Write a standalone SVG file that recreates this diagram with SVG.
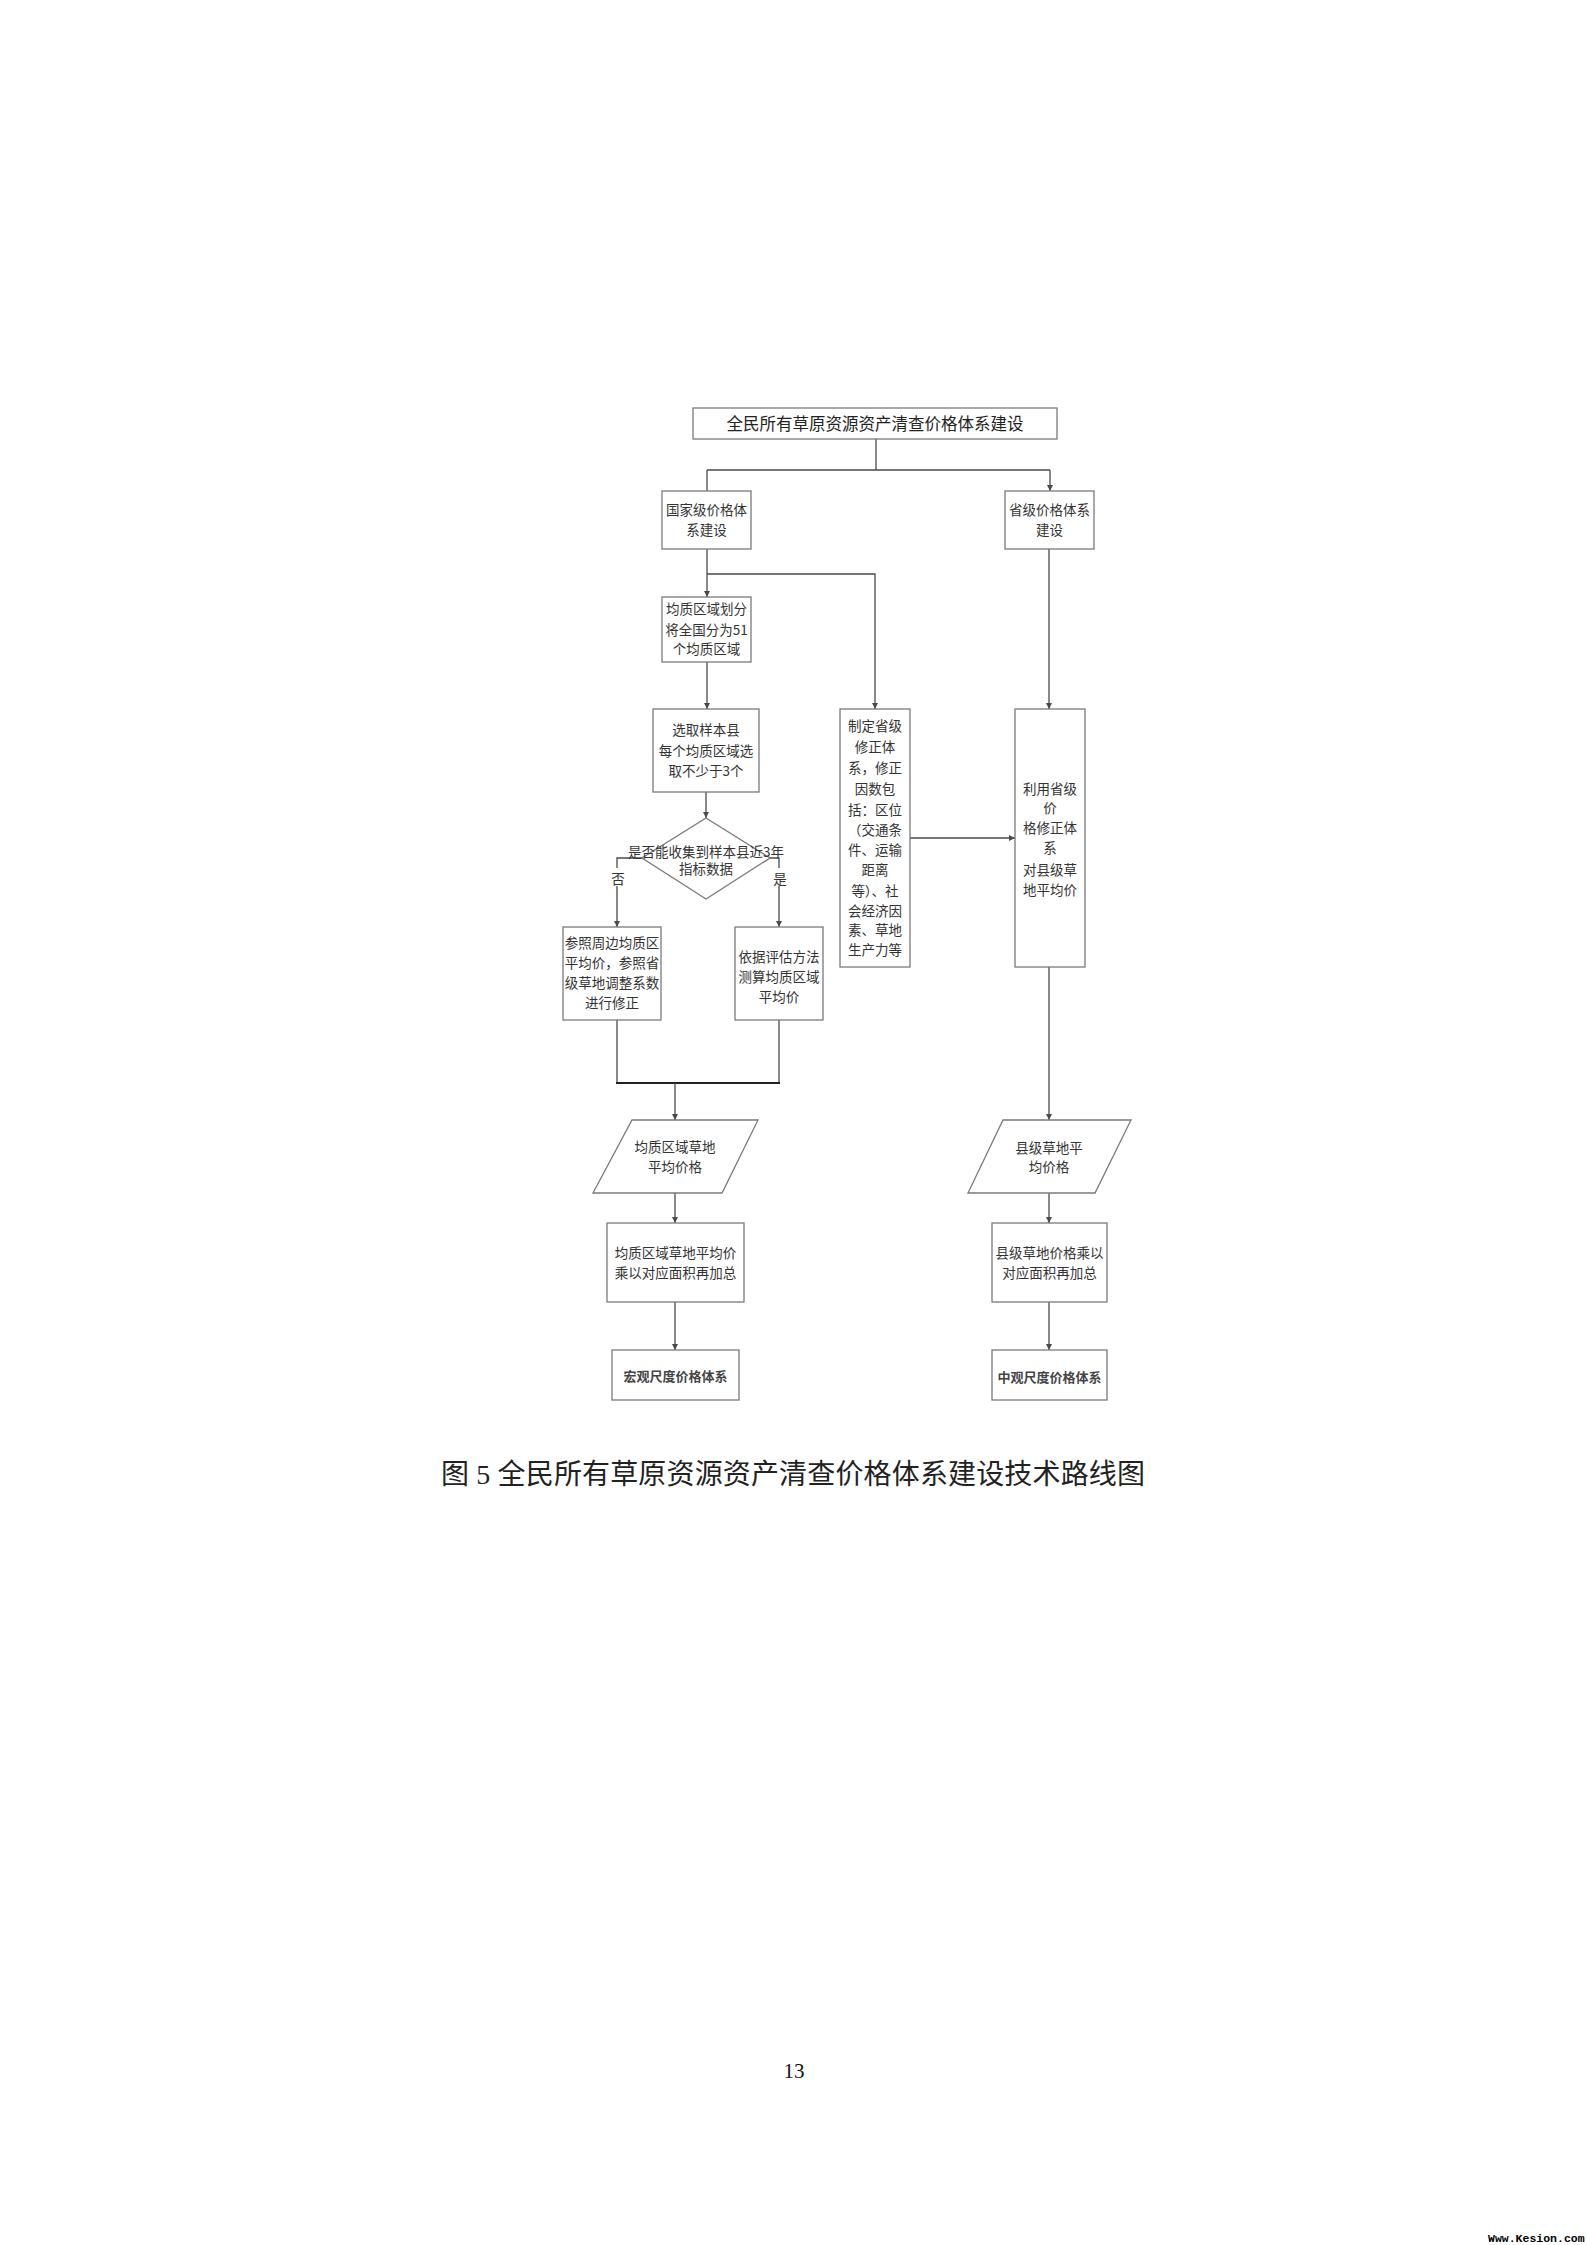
<svg xmlns="http://www.w3.org/2000/svg" width="1587" height="2245" viewBox="0 0 1587 2245">
<style>
.box{fill:#fff;stroke:#7a7a7a;stroke-width:1.3}
.t{font-family:"Noto Sans CJK SC","Liberation Sans",sans-serif;font-size:13.5px;fill:#333;text-anchor:middle}
.tb{font-family:"Noto Sans CJK SC","Liberation Sans",sans-serif;font-size:13px;font-weight:bold;fill:#444;text-anchor:middle}
.c{fill:none;stroke:#4a4a4a;stroke-width:1.3}
.ca{fill:none;stroke:#4a4a4a;stroke-width:1.3;marker-end:url(#arr)}
</style>
<defs>
<marker id="arr" markerUnits="userSpaceOnUse" markerWidth="6" markerHeight="6" refX="6" refY="3" orient="auto">
<path d="M0,0 L6,3 L0,6 z" fill="#4a4a4a"/>
</marker>
</defs>
<rect width="1587" height="2245" fill="#fff"/>

<g id="connectors">
<polyline class="c" points="876,439 876,470"/>
<polyline class="c" points="707,470 707,491"/>
<polyline class="c" points="707,470 1050,470"/>
<polyline class="ca" points="1050,470 1050,491"/>
<polyline class="ca" points="707,549 707,597"/>
<polyline class="ca" points="707,574 875,574 875,709"/>
<polyline class="ca" points="1049,549 1049,709"/>
<polyline class="ca" points="707,662 707,709"/>
<polyline class="ca" points="706,792 706,818"/>
<polyline class="ca" points="642,858 617,858 617,927"/>
<polyline class="ca" points="770,858 779,858 779,927"/>
<polyline class="ca" points="910,838 1015,838"/>
<polyline class="c" points="617,1020 617,1083"/>
<polyline class="c" points="779,1020 779,1083"/>
<polyline style="fill:none;stroke:#222;stroke-width:2" points="616,1083 780,1083"/>
<polyline class="ca" points="675,1083 675,1120"/>
<polyline class="ca" points="675,1193 675,1223"/>
<polyline class="ca" points="675,1302 675,1350"/>
<polyline class="ca" points="1049,967 1049,1120"/>
<polyline class="ca" points="1049,1193 1049,1223"/>
<polyline class="ca" points="1049,1302 1049,1350"/>
<rect x="609" y="868" width="17" height="18" fill="#fff"/>
<text class="t" x="618" y="884" font-size="14">否</text>
<rect x="771" y="868" width="17" height="18" fill="#fff"/>
<text class="t" x="780" y="884" font-size="14">是</text>
</g>

<g id="n_top">
<rect class="box" x="693" y="408" width="364" height="31"/>
<text class="t" x="875" y="430" style="font-size:16.5px;fill:#222">全民所有草原资源资产清查价格体系建设</text>
</g>
<g id="n_guojia">
<rect class="box" x="662" y="491" width="89" height="58"/>
<text class="t" x="706.5" y="515">国家级价格体</text>
<text class="t" x="706.5" y="535">系建设</text>
</g>
<g id="n_shengji">
<rect class="box" x="1005" y="491" width="89" height="58"/>
<text class="t" x="1049.5" y="515">省级价格体系</text>
<text class="t" x="1049.5" y="535">建设</text>
</g>
<g id="n_junzhi">
<rect class="box" x="662" y="597" width="89" height="65"/>
<text class="t" x="706.5" y="614">均质区域划分</text>
<text class="t" x="706.5" y="635">将全国分为51</text>
<text class="t" x="706.5" y="654">个均质区域</text>
</g>
<g id="n_xuanqu">
<rect class="box" x="653" y="709" width="106" height="83"/>
<text class="t" x="706" y="735">选取样本县</text>
<text class="t" x="706" y="756">每个均质区域选</text>
<text class="t" x="706" y="776">取不少于3个</text>
</g>
<g id="n_zhiding">
<rect class="box" x="840" y="709" width="70" height="258"/>
<text class="t" x="875" y="731">制定省级</text>
<text class="t" x="875" y="752">修正体</text>
<text class="t" x="875" y="773">系，修正</text>
<text class="t" x="875" y="794">因数包</text>
<text class="t" x="875" y="815">括：区位</text>
<text class="t" x="875" y="835">（交通条</text>
<text class="t" x="875" y="855">件、运输</text>
<text class="t" x="875" y="875">距离</text>
<text class="t" x="875" y="896">等）、社</text>
<text class="t" x="875" y="916">会经济因</text>
<text class="t" x="875" y="935">素、草地</text>
<text class="t" x="875" y="955">生产力等</text>
</g>
<g id="n_liyong">
<rect class="box" x="1015" y="709" width="70" height="258"/>
<text class="t" x="1050" y="794">利用省级</text>
<text class="t" x="1050" y="813">价</text>
<text class="t" x="1050" y="833">格修正体</text>
<text class="t" x="1050" y="853">系</text>
<text class="t" x="1050" y="875">对县级草</text>
<text class="t" x="1050" y="895">地平均价</text>
</g>
<g id="n_diamond">
<polygon class="box" points="706,818 770,858 706,899 642,858"/>
<text class="t" x="706" y="857" font-size="10.5">是否能收集到样本县近3年</text>
<text class="t" x="706" y="874" font-size="10.5">指标数据</text>
</g>
<g id="n_canzhao">
<rect class="box" x="563" y="927" width="98" height="93"/>
<text class="t" x="612" y="948">参照周边均质区</text>
<text class="t" x="612" y="968">平均价，参照省</text>
<text class="t" x="612" y="988">级草地调整系数</text>
<text class="t" x="612" y="1008">进行修正</text>
</g>
<g id="n_yiju">
<rect class="box" x="735" y="927" width="88" height="93"/>
<text class="t" x="779" y="962">依据评估方法</text>
<text class="t" x="779" y="982">测算均质区域</text>
<text class="t" x="779" y="1002">平均价</text>
</g>
<g id="n_para_left">
<polygon class="box" points="632,1120 758,1120 722,1193 593,1193"/>
<text class="t" x="675" y="1152">均质区域草地</text>
<text class="t" x="675" y="1172">平均价格</text>
</g>
<g id="n_sum_left">
<rect class="box" x="607" y="1223" width="137" height="79"/>
<text class="t" x="675.5" y="1258" font-size="15">均质区域草地平均价</text>
<text class="t" x="675.5" y="1278" font-size="15">乘以对应面积再加总</text>
</g>
<g id="n_hongguan">
<rect class="box" x="612" y="1350" width="127" height="50"/>
<text class="tb" x="675.5" y="1381">宏观尺度价格体系</text>
</g>
<g id="n_para_right">
<polygon class="box" points="1003,1120 1131,1120 1095,1193 968,1193"/>
<text class="t" x="1049" y="1153">县级草地平</text>
<text class="t" x="1049" y="1172">均价格</text>
</g>
<g id="n_sum_right">
<rect class="box" x="992" y="1223" width="115" height="79"/>
<text class="t" x="1049.5" y="1258" font-size="15">县级草地价格乘以</text>
<text class="t" x="1049.5" y="1278" font-size="15">对应面积再加总</text>
</g>
<g id="n_zhongguan">
<rect class="box" x="992" y="1350" width="115" height="50"/>
<text class="tb" x="1049.5" y="1382">中观尺度价格体系</text>
</g>

<text x="441" y="1484" textLength="704" lengthAdjust="spacing" style="font-family:'Liberation Serif','Noto Sans CJK SC',serif;font-size:28px;fill:#222">图 5 全民所有草原资源资产清查价格体系建设技术路线图</text>
<text x="794" y="2078" text-anchor="middle" style="font-family:'Liberation Serif',serif;font-size:21px;fill:#111">13</text>
<text x="1488" y="2242" style="font-family:'Liberation Mono',monospace;font-size:11.5px;font-weight:bold;fill:#000">Www.Kesion.com</text>
</svg>
